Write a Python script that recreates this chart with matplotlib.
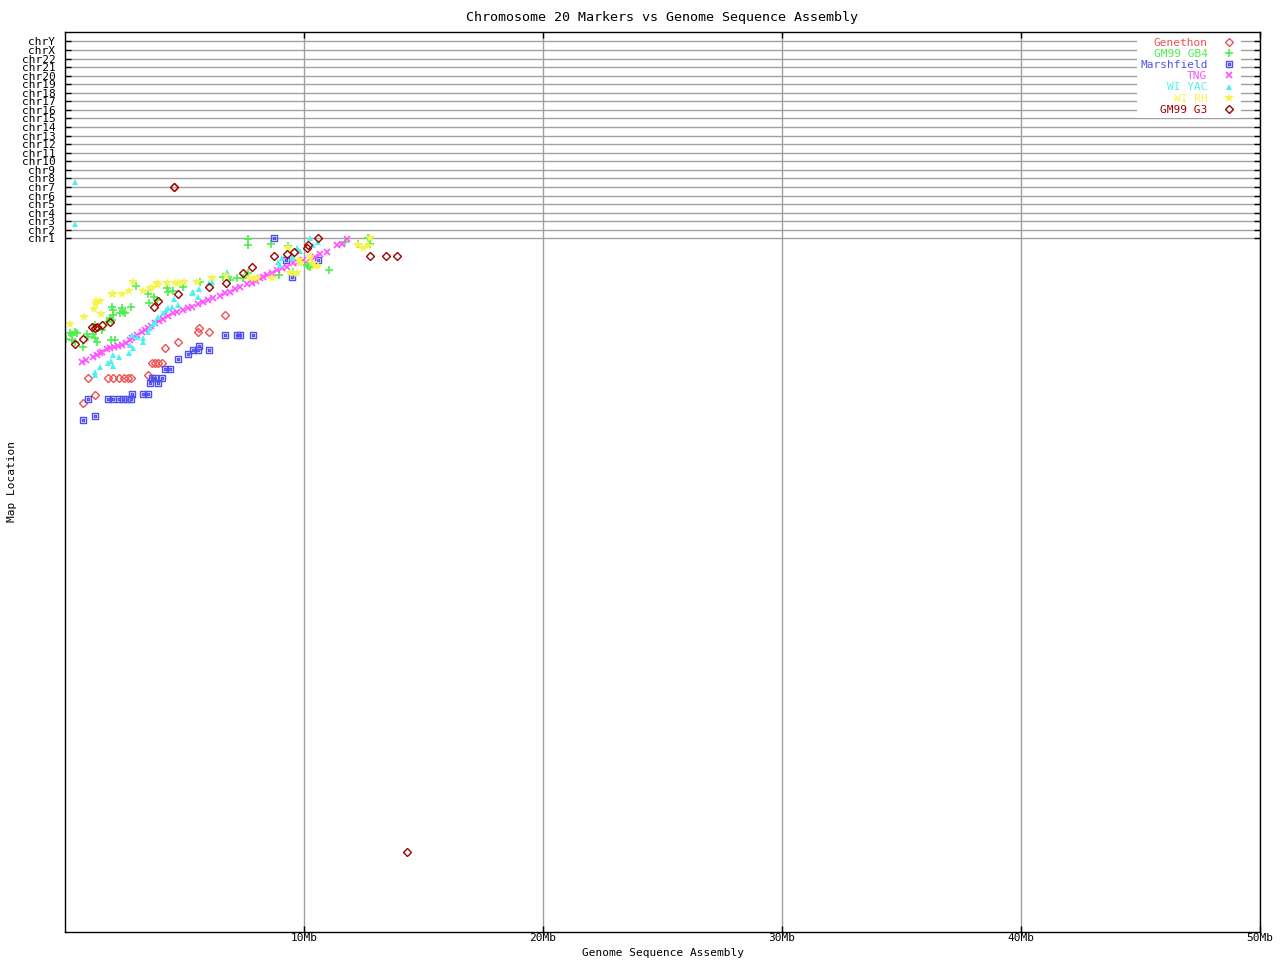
import matplotlib
matplotlib.use('Agg')
import matplotlib.pyplot as plt
from matplotlib.path import Path

# x = genome position (Mb), y = map location (chr ticks at 81..104)
genethon_x = [0.75, 0.96, 1.26, 1.80, 2.01, 2.26, 2.47, 2.64, 2.76, 3.47, 3.64, 3.77, 3.89, 4.06,
              4.18, 4.73, 5.56, 5.61, 6.03, 6.69, 4.56]
genethon_y = [61.8, 64.7, 62.7, 64.7, 64.7, 64.7, 64.7, 64.7, 64.7, 65.1, 66.4, 66.4, 66.4, 66.4,
              68.2, 68.9, 70.1, 70.5, 70.1, 72.0, 87.0]

gb4_x = [0.05, 0.21, 0.29, 0.42, 0.50, 0.29, 0.42, 0.75, 0.92, 0.96, 1.17, 1.26, 1.34, 1.26, 1.55,
         1.76, 1.88, 1.97, 1.97, 2.01, 2.01, 1.92, 2.09, 2.30, 2.38, 2.43, 2.51, 2.76, 2.97, 3.47,
         3.72, 3.85, 3.51, 4.27, 4.31, 4.52, 4.94, 5.65, 6.61, 6.82, 6.90, 7.20, 7.45, 7.66, 7.66,
         7.66, 8.62, 8.95, 9.33, 9.54, 10.13, 10.25, 10.17, 11.05, 11.72, 12.26, 12.68, 12.76]
gb4_y = [69.2, 69.9, 69.7, 70.1, 69.9, 69.1, 68.9, 68.3, 69.8, 69.5, 69.8, 69.4, 68.9, 70.9, 70.3,
         71.2, 71.7, 71.5, 73.0, 72.6, 72.0, 69.1, 69.1, 72.3, 72.9, 72.4, 72.3, 73.0, 75.4, 74.5,
         74.1, 73.8, 73.4, 75.2, 74.7, 74.8, 75.3, 75.9, 76.5, 76.5, 76.1, 76.4, 76.4, 80.9, 80.2,
         76.9, 80.3, 76.7, 80.1, 77.1, 77.9, 77.6, 77.8, 77.3, 80.6, 80.4, 81.0, 80.4]

marsh_x = [0.75, 0.96, 1.26, 1.80, 2.01, 2.26, 2.43, 2.59, 2.76, 2.80, 3.26, 3.47, 3.56, 3.64, 3.77,
           3.89, 4.06, 4.18, 4.39, 4.73, 5.15, 5.36, 5.56, 5.61, 6.03, 6.69, 7.20, 7.32, 7.87,
           8.74, 9.25, 9.50, 10.59]
marsh_y = [59.8, 62.3, 60.2, 62.3, 62.3, 62.3, 62.3, 62.3, 62.3, 62.8, 62.8, 62.8, 64.1, 64.7, 64.7,
           64.1, 64.7, 65.8, 65.8, 66.9, 67.5, 68.0, 68.0, 68.4, 68.0, 69.7, 69.7, 69.7, 69.7,
           81.0, 78.5, 76.5, 78.5]

tng_x = [0.71, 0.88, 1.17, 1.34, 1.46, 1.55, 1.76, 1.88, 2.05, 2.22, 2.38, 2.55, 2.72, 2.80, 3.01,
         3.22, 3.35, 3.47, 3.60, 3.77, 3.93, 4.10, 4.31, 4.52, 4.69, 4.94, 5.15, 5.31, 5.56, 5.77,
         5.98, 6.19, 6.49, 6.69, 6.90, 7.11, 7.32, 7.62, 7.82, 7.99, 8.16, 8.28, 8.45, 8.66, 8.87,
         9.08, 9.29, 9.54, 9.75, 9.96, 10.25, 10.46, 10.67, 10.96, 11.38, 11.59, 11.80]
tng_y = [66.6, 66.8, 67.1, 67.4, 67.6, 67.7, 68.1, 68.2, 68.3, 68.4, 68.5, 68.8, 69.1, 69.4, 69.7,
         70.1, 70.3, 70.5, 70.8, 71.1, 71.3, 71.6, 71.9, 72.3, 72.4, 72.6, 72.9, 73.0, 73.3, 73.6,
         73.8, 74.0, 74.3, 74.6, 74.7, 75.1, 75.3, 75.7, 75.8, 76.0, 76.4, 76.5, 76.7, 76.9, 77.3,
         77.5, 77.6, 78.1, 78.2, 78.5, 78.7, 78.8, 79.2, 79.4, 80.2, 80.4, 80.9]

yac_x = [1.26, 1.26, 1.46, 1.80, 1.92, 2.01, 2.01, 2.26, 2.68, 2.72, 2.85, 2.80, 3.01, 3.26, 3.26,
         3.47, 3.56, 3.68, 3.77, 3.89, 4.10, 4.23, 4.31, 4.48, 4.56, 4.73, 5.31, 5.36, 5.61, 5.56,
         6.03, 6.15, 6.78, 6.82, 8.91, 9.00, 9.08, 9.50, 9.54, 9.71, 9.83, 10.25, 10.38, 10.59,
         0.42, 0.42]
yac_y = [65.4, 65.0, 66.0, 66.4, 66.7, 66.1, 67.4, 67.1, 67.6, 68.5, 68.2, 69.7, 69.5, 69.4, 68.9,
         70.1, 70.5, 71.0, 71.2, 71.8, 72.3, 72.6, 72.9, 73.0, 73.9, 73.2, 74.6, 74.7, 75.1, 74.1,
         75.8, 75.9, 77.1, 76.7, 78.2, 77.9, 78.7, 78.7, 79.0, 79.9, 79.5, 81.0, 80.2, 80.6,
         87.6, 82.7]

rh_x = [0.21, 0.79, 1.21, 1.30, 1.46, 1.30, 1.51, 1.97, 2.01, 2.38, 2.68, 2.85, 3.26, 3.56, 3.64,
        3.85, 3.89, 4.27, 4.60, 4.73, 4.98, 5.52, 6.15, 6.74, 7.74, 7.91, 8.03, 8.66, 9.33, 9.41,
        9.54, 9.71, 9.79, 9.83, 10.25, 10.33, 10.46, 10.59, 12.26, 12.47, 12.76, 12.68]
rh_y = [71.0, 71.8, 72.7, 73.7, 73.7, 73.3, 72.2, 74.5, 74.5, 74.5, 74.8, 75.9, 74.8, 75.2, 75.2,
        75.8, 75.6, 75.8, 75.8, 75.8, 75.9, 75.9, 76.4, 76.6, 76.4, 76.4, 76.4, 76.4, 79.9, 76.9,
        76.9, 76.9, 78.5, 78.1, 78.8, 78.1, 77.8, 77.8, 80.2, 79.9, 81.0, 80.1]

g3_x = [0.42, 0.75, 1.13, 1.26, 1.34, 1.55, 1.88, 3.72, 3.89, 4.73, 6.03, 6.74, 7.45, 7.82, 8.74,
        9.29, 9.58, 10.13, 10.17, 10.59, 12.76, 13.43, 13.89, 14.31, 4.56]
g3_y = [68.7, 69.2, 70.6, 70.5, 70.6, 70.9, 71.2, 73.0, 73.7, 74.5, 75.3, 75.8, 76.9, 77.6, 78.9,
        79.2, 79.4, 79.9, 80.2, 81.0, 79.0, 79.0, 79.0, 9.3, 87.0]

chr_labels = ['chr' + str(i) for i in range(1, 23)] + ['chrX', 'chrY']
chr_pos = list(range(81, 105))
x_ticks = [10, 20, 30, 40, 50]
x_ticklabels = ['10Mb', '20Mb', '30Mb', '40Mb', '50Mb']

# square with a dot in the middle (Marshfield marker)
sq_dot = Path([(-1, -1), (1, -1), (1, 1), (-1, 1), (-1, -1),
               (-0.3, -0.3), (0.3, -0.3), (0.3, 0.3), (-0.3, 0.3), (-0.3, -0.3)],
              [Path.MOVETO, Path.LINETO, Path.LINETO, Path.LINETO, Path.CLOSEPOLY,
               Path.MOVETO, Path.LINETO, Path.LINETO, Path.LINETO, Path.CLOSEPOLY])

plt.rcParams['font.family'] = ['DejaVu Sans Mono']
plt.rcParams['font.size'] = 8

fig = plt.figure(figsize=(12.8, 9.6), dpi=100)
ax = fig.add_axes([65 / 1280, 28 / 960, 1195 / 1280, 900 / 960])

series = [
    ('Genethon', genethon_x, genethon_y, '#f05050', dict(marker='D', ms=3.6, mfc='none', mew=1)),
    ('GM99 GB4', gb4_x, gb4_y, '#4cf04c', dict(marker='+', ms=5.5, mew=1.2)),
    ('Marshfield', marsh_x, marsh_y, '#5050f0', dict(marker=sq_dot, ms=5, mfc='none', mew=1)),
    ('TNG', tng_x, tng_y, '#ff50ff', dict(marker='x', ms=4.5, mew=1.2)),
    ('WI YAC', yac_x, yac_y, '#50f0f0', dict(marker='^', ms=4.5, mew=0)),
    ('WI RH', rh_x, rh_y, '#f5f550', dict(marker='*', ms=7, mew=0)),
    ('GM99 G3', g3_x, g3_y, '#a00000', dict(marker='D', ms=3.6, mfc='none', mew=1)),
]

for name, xs, ys, col, kw in series:
    ax.plot(xs, ys, linestyle='none', color=col, label=name, **kw)

ax.set_xlim(0, 50)
ax.set_ylim(0, 105.1)
ax.set_xticks(x_ticks)
ax.set_xticklabels(x_ticklabels)
ax.set_yticks(chr_pos)
ax.set_yticklabels(chr_labels)
ax.tick_params(direction='in', length=4, width=1, top=True, right=True)
ax.tick_params(axis='x', pad=1)
ax.tick_params(axis='y', pad=7)
ax.grid(True, color='#a0a0a0', linewidth=1)
ax.set_axisbelow(True)
for sp in ax.spines.values():
    sp.set_linewidth(1)

ax.set_title('Chromosome 20 Markers vs Genome Sequence Assembly', pad=8)
ax.set_xlabel('Genome Sequence Assembly', labelpad=3)
ax.set_ylabel('Map Location', labelpad=3)

leg = ax.legend(loc='upper right', bbox_to_anchor=(0.984, 0.997), borderaxespad=0,
                markerfirst=False, frameon=True, fancybox=False,
                edgecolor='none', facecolor='white', framealpha=1, labelspacing=0.1,
                handlelength=1.5, handletextpad=1.2, borderpad=0.3,
                labelcolor=[s[3] for s in series], numpoints=1)

fig.savefig('out.png', dpi=100)
